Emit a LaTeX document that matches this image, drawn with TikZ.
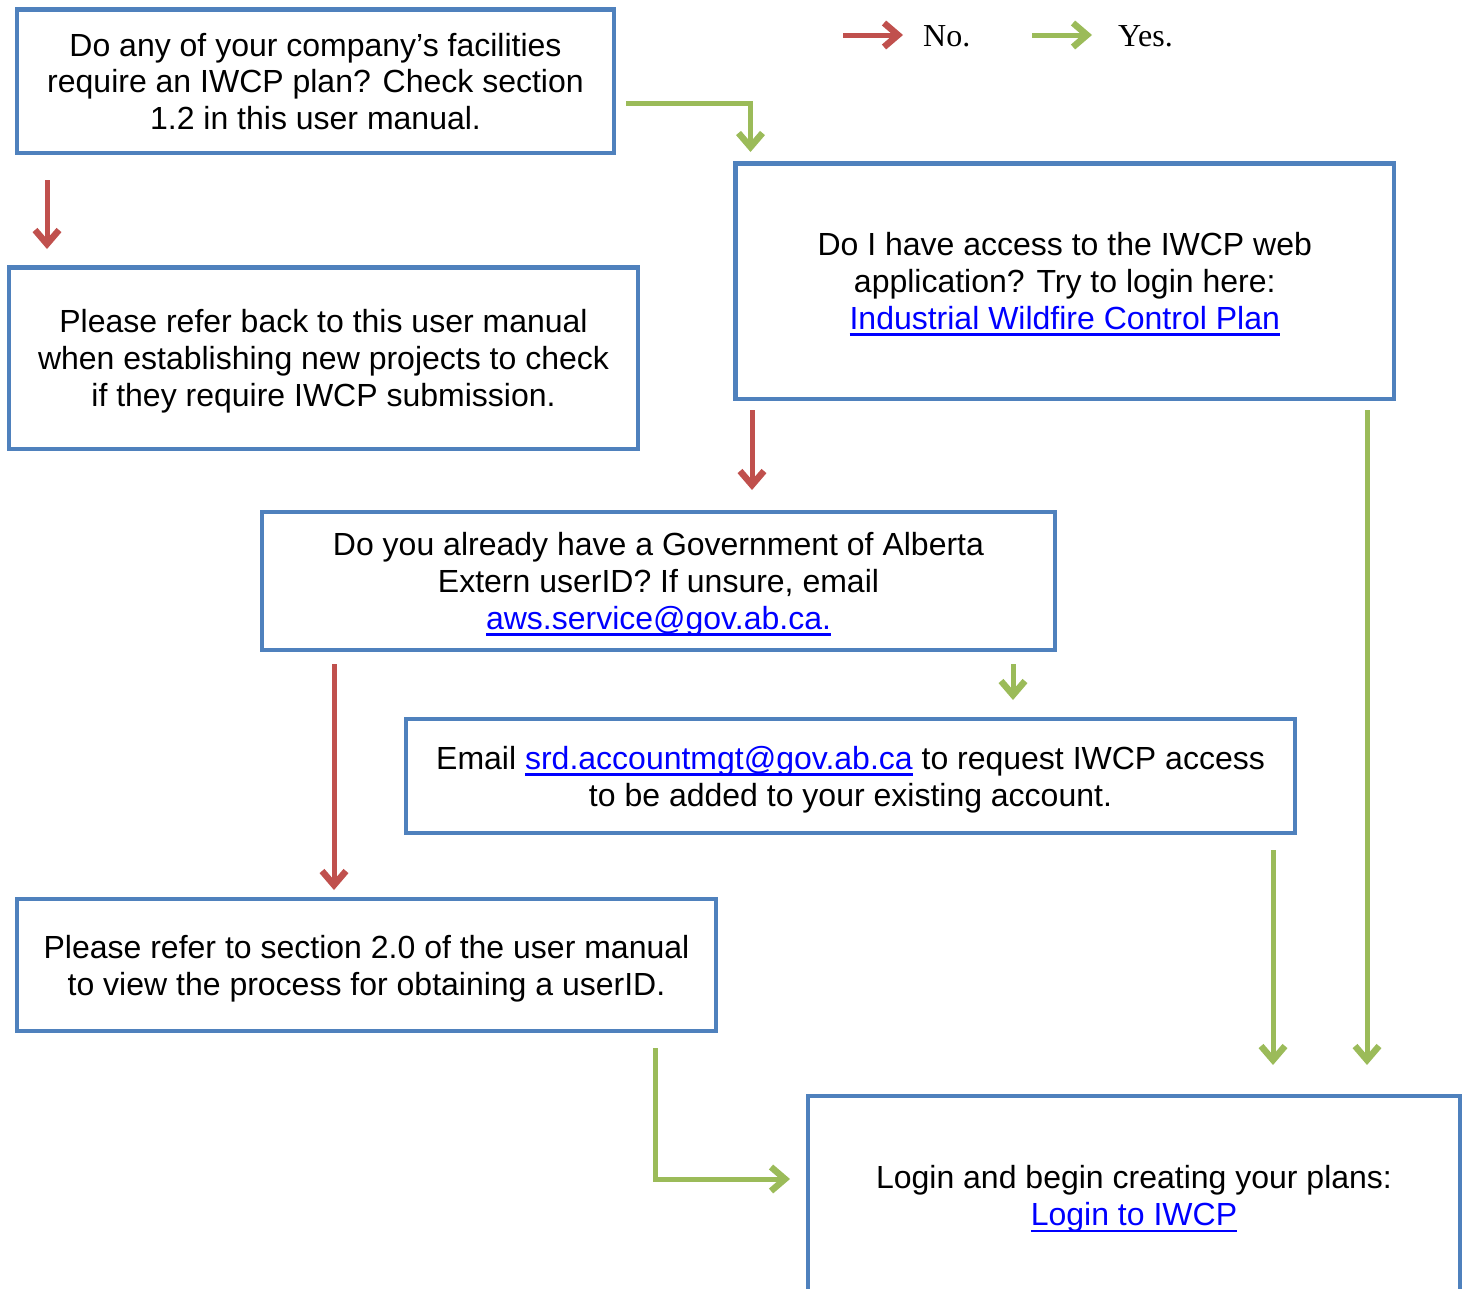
\documentclass[tikz,border=0pt]{standalone}
\usepackage{fontspec}
\setmainfont{Liberation Sans}
\newfontfamily\legendfont{Liberation Serif}
\usetikzlibrary{arrows.meta}
\definecolor{boxblue}{HTML}{4F81BD}
\definecolor{noRed}{HTML}{C0504D}
\definecolor{yesGreen}{HTML}{9BBB59}
\definecolor{linkblue}{HTML}{0000FF}
\newcommand\lnk[1]{{\color{linkblue}\setbox0=\hbox{#1}\rlap{\rule[-6.5pt]{\wd0}{2.5pt}}\box0}}
\tikzset{
  box/.style 2 args={draw=boxblue, line width=4.5pt, minimum width=#1, minimum height=#2,
    inner sep=0pt},
  boxtext/.style={inner sep=0pt, align=center, font=\fontsize{32}{36.8}\selectfont, text=black},
  conn/.style={line width=5pt, -{Straight Barb[length=14pt,width=24pt,line width=6.5pt]}},
  noarr/.style={conn, draw=noRed},
  yesarr/.style={conn, draw=yesGreen},
  legendtxt/.style={inner sep=0pt, anchor=base west, font=\legendfont\fontsize{32}{36}\selectfont}
}
\begin{document}
\begin{tikzpicture}[x=1pt,y=-1pt]
\useasboundingbox (0,0) rectangle (1464,1288);
\clip (0,0) rectangle (1464,1288);

% boxes
\node[box={597pt}{143.5pt}] (A) at (315.5,81) {};
\node[box={629pt}{181.5pt}] (B) at (323.5,358) {};
\node[box={658.5pt}{235.5pt}] (C) at (1064.75,281.25) {};
\node[box={793pt}{138pt}] (D) at (658.5,581) {};
\node[box={889pt}{114pt}] (E) at (850.5,776) {};
\node[box={699pt}{132pt}] (F) at (366.5,965) {};
\node[box={652pt}{199pt}] (G) at (1134,1195.5) {};

% box texts
\node[boxtext] (At) at ([yshift=-0.5pt]A.center)
  {Do any of your company’s facilities\\require an IWCP plan? Check section\\1.2 in this user manual.};
\node[boxtext] (Bt) at ([yshift=-3pt]B.center)
  {Please refer back to this user manual\\when establishing new projects to check\\if they require IWCP submission.};
\node[boxtext] (Ct) at ([yshift=-3pt]C.center)
  {Do I have access to the IWCP web\\application? Try to login here:\\\lnk{Industrial Wildfire Control Plan}};
\node[boxtext] (Dt) at ([yshift=-3pt]D.center)
  {Do you already have a Government of Alberta\\Extern userID? If unsure, email\\\lnk{aws.service@gov.ab.ca.}};
\node[boxtext] (Et) at ([yshift=-3.5pt]E.center)
  {Email \lnk{srd.accountmgt@gov.ab.ca} to request IWCP access\\to be added to your existing account.};
\node[boxtext] (Ft) at ([yshift=-3.5pt]F.center)
  {Please refer to section 2.0 of the user manual\\to view the process for obtaining a userID.};
\node[boxtext] (Gt) at ([yshift=-3.5pt]G.center)
  {Login and begin creating your plans:\\\lnk{Login to IWCP}};

% legend
\coordinate (noS) at (843,35);
\coordinate (noE) at (903,35);
\coordinate (yesS) at (1032,35);
\coordinate (yesE) at (1092,35);
\draw[noarr] (noS) -- (noE);
\draw[yesarr] (yesS) -- (yesE);
\node[legendtxt] (noT) at (923,46) {No.};
\node[legendtxt] (yesT) at (1118,46) {Yes.};

% connector end points
\coordinate (a1) at (47,180);   \coordinate (a2) at (47,249);
\coordinate (b1) at (626,103);  \coordinate (b2) at (750.5,103); \coordinate (b3) at (750.5,152);
\coordinate (c1) at (752,410);  \coordinate (c2) at (752,490);
\coordinate (d1) at (1013,664); \coordinate (d2) at (1013,700);
\coordinate (e1) at (334,664);  \coordinate (e2) at (334,890);
\coordinate (f1) at (1273,850); \coordinate (f2) at (1273,1065);
\coordinate (g1) at (1367,410); \coordinate (g2) at (1367,1065);
\coordinate (h1) at (655,1048); \coordinate (h2) at (655,1179); \coordinate (h3) at (790,1179);

\draw[noarr] (a1) -- (a2);
\draw[yesarr] (b1) -- (b2) -- (b3);
\draw[noarr] (c1) -- (c2);
\draw[yesarr] (d1) -- (d2);
\draw[noarr] (e1) -- (e2);
\draw[yesarr] (f1) -- (f2);
\draw[yesarr] (g1) -- (g2);
\draw[yesarr] (h1) -- (h2) -- (h3);
\end{tikzpicture}
\end{document}
